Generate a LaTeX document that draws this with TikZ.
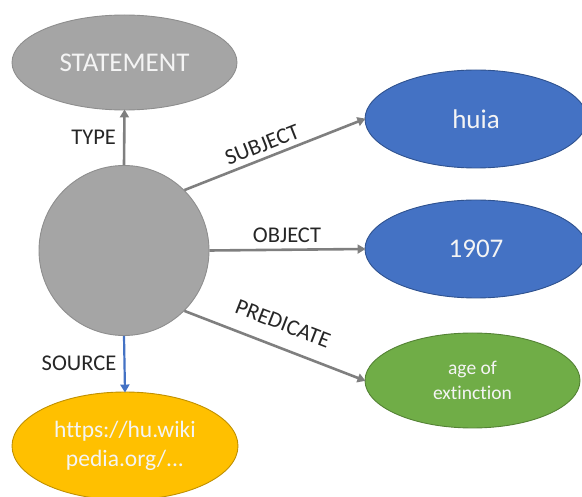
\documentclass[tikz,border=0pt]{standalone}
\usepackage{fontspec}
\setmainfont{Carlito}[Ligatures={NoCommon,NoRequired,NoContextual}]
\usetikzlibrary{shapes.geometric,arrows.meta}

\definecolor{nodegray}{HTML}{A5A5A5}
\definecolor{nodegrayedge}{HTML}{8E8E8E}
\definecolor{nodeblue}{HTML}{4472C4}
\definecolor{nodeblueedge}{HTML}{2F528F}
\definecolor{nodegreen}{HTML}{70AD47}
\definecolor{nodegreenedge}{HTML}{548235}
\definecolor{nodegold}{HTML}{FFC000}
\definecolor{nodegoldedge}{HTML}{C09000}
\definecolor{arrowgray}{HTML}{7F7F7F}
\definecolor{labeltext}{HTML}{262626}
\definecolor{nodetext}{HTML}{F4F4F4}

\tikzset{
  oval/.style={ellipse, inner sep=0pt, line width=0.9pt, text=nodetext, align=center},
  grayoval/.style={oval, fill=nodegray, draw=nodegrayedge},
  blueoval/.style={oval, fill=nodeblue, draw=nodeblueedge},
  greenoval/.style={oval, fill=nodegreen, draw=nodegreenedge},
  goldoval/.style={oval, fill=nodegold, draw=nodegoldedge},
  bigtext/.style={font=\fontsize{27}{31}\selectfont},
  link/.style={draw=arrowgray, line width=2.6pt,
    -{Triangle[length=8pt,width=9pt]}, shorten >=-1pt},
  bluelink/.style={link, draw=nodeblue, line width=2.2pt},
  edgelabel/.style={text=labeltext, font=\fontsize{22.5}{25}\selectfont, inner sep=2pt}
}

\begin{document}
\begin{tikzpicture}[x=1pt, y=-1pt]
  \useasboundingbox (0,0) rectangle (582,497);

  % central statement resource
  \node[grayoval, circle, minimum size=170pt] (c) at (124,250.5) {};

  % the resources it points to
  \node[grayoval, bigtext, minimum width=225pt, minimum height=95pt] (st) at (124.5,62.5) {STATEMENT};
  \node[blueoval, bigtext, minimum width=222pt, minimum height=98pt] (hu) at (476,119) {huia};
  \node[blueoval, bigtext, minimum width=222pt, minimum height=98pt] (ob) at (476,249) {1907};
  \node[greenoval, font=\fontsize{19.5}{25}\selectfont, minimum width=215pt, minimum height=95pt] (pr) at (472.5,380.5) {age of\\ext\kern0pt inc\kern0pt t\kern0pt ion};
  \node[goldoval, font=\fontsize{23.5}{29}\selectfont, minimum width=226pt, minimum height=108pt] (src) at (125,446) {https://hu.wiki\\pedia.org/...};

  % properties of the statement
  \draw[link] (c.north) -- node[edgelabel, left=5pt] (ltype) {TYPE} (st.south);
  \draw[link] (c.45) -- node[edgelabel, sloped, above=3pt, pos=0.46] (lsubj) {SUBJECT} (hu.west);
  \draw[link] (c.east) -- node[edgelabel, above=4pt] (lobj) {OBJECT} (ob.west);
  \draw[link] (c.-45) -- node[edgelabel, sloped, above=13pt, pos=0.5] (lpred) {PREDICATE} (pr.west);
  \draw[bluelink] (c.south) -- node[edgelabel, left=5pt] (lsrc) {SOURCE} (src.north);
\end{tikzpicture}
\end{document}
